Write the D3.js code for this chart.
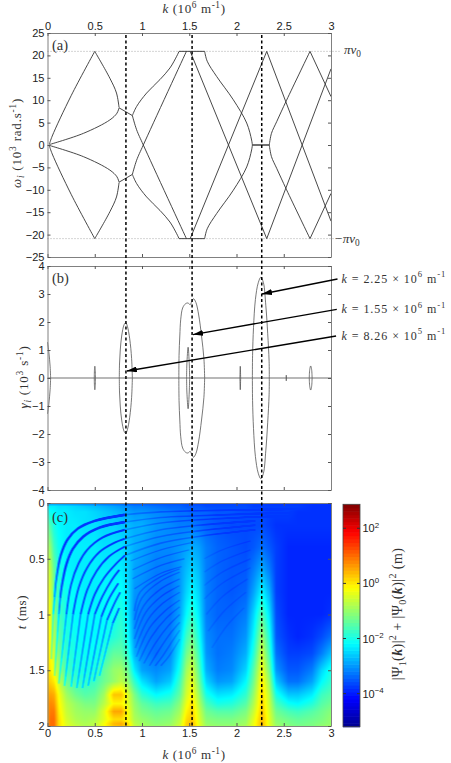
<!DOCTYPE html>
<html>
<head>
<meta charset="utf-8">
<script src="https://d3js.org/d3.v7.min.js"></script>
<style>
  html, body { margin: 0; padding: 0; background: #fff; }
  svg { display: block; }
  .tk text { font-family: "Liberation Sans", sans-serif; font-size: 11px; fill: #222; }
  .tk line { stroke: #555; }
  .tk path { stroke: #808080; fill: none; }
  .cm { font-family: "Liberation Serif", serif; fill: #333; }
</style>
</head>
<body>
<div id="chart"></div>
<script>
var svgWidth = 451;
var svgHeight = 763;

var kTicks = [0, 0.5, 1, 1.5, 2, 2.5, 3];
var omegaTicks = [-25, -20, -15, -10, -5, 0, 5, 10, 15, 20, 25];
var gammaTicks = [-4, -3, -2, -1, 0, 1, 2, 3, 4];
var timeTicks = [0, 0.5, 1, 1.5, 2];
var powerTicks = [-4, -2, 0, 2];
var markedK = [0.83, 1.53, 2.267];
var piNu = 20.9;

// (a) branches of omega(k); each one is also drawn mirrored about omega = 0
var branchRise = [[0.02, 0.2], [0.05, 2], [0.25, 11], [0.5, 20.9]];
var branchFall = [[0.5, 20.9], [0.66, 14.9], [0.73, 11.6], [0.757, 8.4]];
var branchLink = [[0.757, 8.3], [0.898, 6.57]];
var branchInner = [[0.02, 0.1], [0.38, 2.6], [0.66, 5.6], [0.735, 7.1], [0.757, 8.3]];
var branchUp = [[0.898, 6.57], [0.943, 8.6], [1.049, 11.6], [1.19, 14.6], [1.296, 17.2], [1.367, 19.8], [1.392, 20.9]];
var branchDown = [[0.898, 6.57], [0.943, 3.4], [1.014, 0], [1.47, -20.9]];
var branchTop = [[1.392, 20.9], [1.663, 20.9]];
var branchCross = [[1.51, 20.9], [2.32, -20.9]];
var branchWideA = [[1.663, 20.9], [1.69, 18.7], [1.79, 15.3], [1.966, 10.1], [2.108, 4.9], [2.16, 1.1], [2.168, 0]];
var branchFlat = [[2.168, 0], [2.347, 0]];
var branchWideB = [[2.347, 0], [2.37, 2.6], [2.425, 5.2], [2.53, 10], [2.778, 20.9]];
var branchEnd = [[2.778, 20.9], [3, 10.8]];
var branchLong = [[2.32, -20.9], [3, 17]];
var branches = [branchRise, branchFall, branchLink, branchInner, branchUp, branchDown, branchTop, branchCross, branchWideA, branchFlat, branchWideB, branchEnd, branchLong];

// (b) upper half of each growth-rate lobe
var lobeZero = [[0, 1.28], [0.015, 0.9], [0.028, 0.4], [0.033, 0]];
var lobeHalf = [[0.495, 0], [0.497, 0.3], [0.501, 0.42], [0.505, 0.3], [0.507, 0]];
var lobeFirst = [[0.76, 0], [0.762, 0.5], [0.77, 1], [0.785, 1.5], [0.81, 1.9], [0.828, 1.98], [0.845, 1.85], [0.87, 1.4], [0.89, 0.7], [0.898, 0]];
var lobeWide = [[1.39, 0], [1.392, 0.8], [1.4, 1.5], [1.41, 2.1], [1.43, 2.5], [1.46, 2.65], [1.485, 2.68], [1.51, 2.62], [1.525, 2.72], [1.545, 2.83], [1.57, 2.7], [1.6, 2.25], [1.63, 1.5], [1.655, 0.7], [1.663, 0]];
var lobeInner = [[1.472, 0], [1.475, 0.5], [1.488, 1.1], [1.5, 0.5], [1.504, 0]];
var lobeTall = [[2.168, 0], [2.17, 0.8], [2.18, 1.8], [2.2, 2.8], [2.23, 3.4], [2.258, 3.6], [2.285, 3.4], [2.31, 2.6], [2.33, 1.6], [2.345, 0.6], [2.347, 0]];
var lobeSmallA = [[2.036, 0], [2.04, 0.42], [2.044, 0]];
var lobeSmallB = [[2.525, 0], [2.527, 0.1], [2.529, 0]];
var lobeSmallC = [[2.77, 0], [2.775, 0.3], [2.785, 0.43], [2.795, 0.3], [2.8, 0]];
var lobes = [lobeZero, lobeHalf, lobeFirst, lobeWide, lobeInner, lobeTall, lobeSmallA, lobeSmallB, lobeSmallC];

var arrowTips = [[2.27, 3.0], [1.54, 1.55], [0.84, 0.25]];
var arrowValues = [["2.25", "6"], ["1.55", "6"], ["8.26", "5"]];

// (c) log10 of the amplitude, read at these k and t
var gridK = [0, 0.03, 0.07, 0.12, 0.2, 0.3, 0.4, 0.5, 0.6, 0.7, 0.78, 0.85, 0.92, 1, 1.15, 1.3, 1.4, 1.47, 1.53, 1.6, 1.68, 1.8, 1.95, 2.1, 2.18, 2.27, 2.35, 2.42, 2.55, 2.65, 2.8, 2.9, 3];
var gridT = [0, 0.03, 0.08, 0.2, 0.4, 0.6, 0.8, 1, 1.2, 1.35, 1.5, 1.6, 1.72, 1.8, 1.87, 1.94, 1.98, 2];
var logAmp = [
  [-3.2,-3.2,-3.2,-3.2,-3.3,-3.3,-3.4,-3.4,-3.5,-3.5,-3.5,-3.6,-3.6,-3.6,-3.6,-3.6,-3.6,-3.6,-3.7,-3.7,-3.7,-3.7,-3.7,-3.7,-3.7,-3.7,-3.8,-3.8,-3.8,-3.8,-3.8,-3.8,-3.8],
  [-2.3,-2.3,-2.3,-2.4,-2.4,-2.5,-2.6,-2.7,-2.8,-2.9,-3,-3.1,-3.2,-3.2,-3.3,-3.4,-3.4,-3.5,-3.5,-3.5,-3.6,-3.6,-3.6,-3.6,-3.7,-3.7,-3.7,-3.7,-3.7,-3.7,-3.8,-3.8,-3.8],
  [-1.9,-2.1,-2.2,-2.3,-2.3,-2.4,-2.4,-2.5,-2.6,-2.7,-2.8,-2.9,-3,-3,-3.1,-3.2,-3.3,-3.3,-3.4,-3.4,-3.4,-3.5,-3.5,-3.6,-3.6,-3.6,-3.7,-3.7,-3.7,-3.8,-3.8,-3.8,-3.8],
  [-1.3,-1.6,-2,-2.2,-2.3,-2.3,-2.4,-2.4,-2.5,-2.5,-2.6,-2.7,-2.8,-2.8,-3,-3.1,-3.2,-3.2,-3.2,-3.3,-3.4,-3.5,-3.6,-3.6,-3.6,-3.6,-3.7,-3.8,-3.8,-3.8,-3.8,-3.8,-3.8],
  [-0.8,-1,-1.7,-2.1,-2.3,-2.3,-2.3,-2.3,-2.4,-2.4,-2.4,-2.6,-2.8,-2.9,-3.1,-3.1,-3,-2.9,-2.8,-2.9,-3.2,-3.4,-3.5,-3.6,-3.5,-3.3,-3.5,-3.7,-3.9,-3.9,-3.9,-3.9,-3.9],
  [-0.4,-0.7,-1.4,-1.9,-2.2,-2.3,-2.3,-2.3,-2.3,-2.3,-2.3,-2.5,-2.9,-3,-3.2,-3.2,-3,-2.7,-2.5,-2.7,-3.2,-3.4,-3.5,-3.5,-3.2,-2.8,-3.2,-3.7,-3.9,-3.9,-3.9,-3.9,-3.9],
  [-0.2,-0.5,-1.2,-1.8,-2.1,-2.2,-2.3,-2.3,-2.2,-2.2,-2.1,-2.4,-3,-3.1,-3.3,-3.3,-3,-2.5,-2.2,-2.5,-3.2,-3.4,-3.5,-3.4,-2.9,-2.2,-2.8,-3.7,-3.9,-3.9,-3.9,-3.9,-3.9],
  [-0.1,-0.3,-1,-1.6,-2,-2.2,-2.2,-2.2,-2.2,-2.1,-1.9,-2.3,-3.1,-3.2,-3.3,-3.3,-2.9,-2.2,-1.8,-2.3,-3.2,-3.4,-3.4,-3.2,-2.5,-1.5,-2.4,-3.6,-3.9,-3.9,-3.9,-3.9,-3.8],
  [0,-0.2,-0.8,-1.4,-1.9,-2.1,-2.2,-2.2,-2.1,-1.9,-1.7,-2.1,-3,-3.2,-3.3,-3.2,-2.6,-1.7,-1.3,-2,-3.1,-3.3,-3.3,-3,-2.2,-0.9,-2,-3.5,-3.8,-3.9,-3.8,-3.6,-3.3],
  [0,-0.1,-0.6,-1.2,-1.8,-2,-2.1,-2.1,-1.8,-1.4,-1.4,-1.8,-2.8,-3.1,-3.3,-3.1,-2.3,-1.3,-0.9,-1.7,-3,-3.3,-3.2,-2.8,-1.9,-0.5,-1.7,-3.3,-3.7,-3.7,-3.6,-3.2,-2.7],
  [0.1,0,-0.3,-0.9,-1.6,-1.9,-2,-1.9,-1.4,-1,-0.9,-1.3,-2.3,-2.9,-3.1,-2.9,-2,-0.9,-0.5,-1.4,-2.8,-3.2,-3.1,-2.5,-1.5,-0.2,-1.3,-3,-3.5,-3.5,-3.2,-2.5,-2],
  [0.2,0.2,0,-0.6,-1.3,-1.7,-1.8,-1.7,-1.3,-1,-0.7,-1,-1.8,-2.4,-2.9,-2.6,-1.7,-0.7,-0.3,-1.2,-2.5,-3,-2.9,-2.2,-1.3,0,-1,-2.6,-3.3,-3.3,-2.9,-2.2,-1.8],
  [0.4,0.6,0.5,-0.2,-0.9,-1.3,-1.5,-1.4,-0.9,0.3,0.3,-0.4,-1.2,-1.8,-2.2,-2,-1.4,-0.5,-0.1,-0.9,-2,-2.4,-2.3,-1.8,-1,0.15,-0.7,-2,-2.6,-2.6,-2.3,-1.7,-1.5],
  [0.5,0.8,0.7,-0.1,-0.7,-1,-1.2,-1.2,-0.7,-0.1,-0.1,-0.4,-1,-1.4,-1.7,-1.6,-1.1,-0.3,0.1,-0.7,-1.6,-2,-1.9,-1.5,-0.8,0.2,-0.6,-1.6,-2.1,-2.2,-1.9,-1.5,-1.3],
  [0.5,0.9,0.9,0,-0.6,-0.9,-1,-1,-0.4,0.55,0.55,-0.2,-0.9,-1.2,-1.4,-1.3,-0.9,-0.1,0.2,-0.5,-1.3,-1.5,-1.5,-1.2,-0.6,0.3,-0.5,-1.3,-1.6,-1.7,-1.5,-1.3,-1.1],
  [0.5,1,1,0.1,-0.5,-0.8,-0.9,-0.8,-0.4,0.1,0.1,-0.2,-0.8,-1,-1.2,-1.1,-0.7,0.1,0.3,-0.4,-1.1,-1.2,-1.2,-1,-0.4,0.4,-0.4,-1.1,-1.3,-1.4,-1.3,-1.2,-1],
  [0.5,1,1,0.1,-0.4,-0.7,-0.8,-0.7,-0.2,0.4,0.5,0.1,-0.7,-0.9,-1.1,-1,-0.6,0.2,0.4,-0.3,-1,-1.1,-1.1,-0.9,-0.3,0.4,-0.4,-1,-1.2,-1.3,-1.2,-1.1,-1],
  [0.5,1,1,0.1,-0.4,-0.6,-0.8,-0.7,-0.2,0.3,0.4,0.1,-0.6,-0.9,-1,-0.9,-0.5,0.2,0.4,-0.3,-0.9,-1,-1,-0.8,-0.3,0.4,-0.3,-0.9,-1.1,-1.2,-1.2,-1,-0.9]
];

// dark fringes of the interference pattern, traced as [k, t]
var leadFringes = [
  [[0.075, 0.85], [0.09, 0.7], [0.14, 0.47], [0.21, 0.33], [0.32, 0.23], [0.5, 0.16], [0.82, 0.105]],
  [[0.135, 0.85], [0.15, 0.75], [0.2, 0.55], [0.27, 0.41], [0.38, 0.3], [0.55, 0.22], [0.82, 0.17]]
];
var mainFringes = [
  [[0.06, 1], [0.075, 0.85]],
  [[0.12, 1], [0.135, 0.85]],
  [[0.2, 1], [0.25, 0.73], [0.33, 0.54], [0.42, 0.42], [0.58, 0.31], [0.82, 0.24]],
  [[0.27, 1], [0.33, 0.76], [0.42, 0.58], [0.55, 0.44], [0.7, 0.36], [0.82, 0.32]],
  [[0.35, 1], [0.42, 0.78], [0.52, 0.61], [0.65, 0.48], [0.82, 0.39]],
  [[0.43, 1], [0.5, 0.82], [0.6, 0.67], [0.72, 0.55], [0.82, 0.47]],
  [[0.5, 1], [0.58, 0.84], [0.68, 0.69], [0.76, 0.6]],
  [[0.57, 1.02], [0.65, 0.86], [0.75, 0.72]],
  [[0.63, 1.05], [0.72, 0.88], [0.77, 0.8]],
  [[0.69, 1.08], [0.76, 0.94]]
];
var lowerFringes = [
  [[0.04, 1.4], [0.06, 1]],
  [[0.075, 1.55], [0.12, 1]],
  [[0.12, 1.62], [0.2, 1]],
  [[0.18, 1.64], [0.27, 1]],
  [[0.25, 1.65], [0.35, 1]],
  [[0.31, 1.66], [0.43, 1]],
  [[0.37, 1.66], [0.5, 1]],
  [[0.43, 1.64], [0.57, 1.02]],
  [[0.49, 1.6], [0.63, 1.05]],
  [[0.55, 1.55], [0.69, 1.08]]
];
var upperFringes = [
  [[0.82, 0.105], [1.2, 0.08], [1.6, 0.07], [2.2, 0.06], [3, 0.05]],
  [[0.82, 0.17], [1.2, 0.13], [1.6, 0.115], [2.2, 0.095], [3, 0.08]],
  [[0.82, 0.24], [1.2, 0.18], [1.6, 0.15], [2.2, 0.125], [3, 0.105]],
  [[0.82, 0.32], [1.2, 0.24], [1.6, 0.2], [2.2, 0.16]],
  [[0.82, 0.39], [1.2, 0.3], [1.6, 0.25], [2.2, 0.2]],
  [[0.82, 0.47], [1.2, 0.36], [1.6, 0.3], [2.2, 0.24]]
];
var basinFringes = [
  [[0.88, 0.52], [1.2, 0.42], [1.55, 0.35]],
  [[0.9, 0.6], [1.2, 0.49], [1.5, 0.42]],
  [[0.9, 0.68], [1.2, 0.56], [1.45, 0.5]],
  [[0.92, 0.77], [1.2, 0.63], [1.42, 0.57]],
  [[0.92, 0.97], [0.98, 0.8], [1.2, 0.66], [1.4, 0.59]],
  [[0.92, 1.05], [1, 0.85], [1.2, 0.7], [1.4, 0.62]],
  [[0.92, 1.13], [1.02, 0.92], [1.2, 0.77], [1.4, 0.68]],
  [[0.92, 1.22], [1.04, 0.98], [1.2, 0.84], [1.4, 0.74]],
  [[0.93, 1.3], [1.06, 1.05], [1.22, 0.9], [1.4, 0.8]],
  [[0.94, 1.38], [1.08, 1.12], [1.24, 0.97], [1.4, 0.87]],
  [[0.97, 1.42], [1.1, 1.2], [1.26, 1.03], [1.4, 0.93]],
  [[1.02, 1.44], [1.14, 1.26], [1.28, 1.1], [1.4, 1]],
  [[1.08, 1.46], [1.18, 1.32], [1.3, 1.17], [1.4, 1.07]],
  [[1.14, 1.46], [1.22, 1.37], [1.32, 1.24], [1.4, 1.14]],
  [[1.2, 1.46], [1.28, 1.38], [1.4, 1.22]]
];
var faintFringes = [
  [[1.66, 0.5], [1.85, 0.42], [2.15, 0.34]],
  [[1.66, 0.62], [1.85, 0.52], [2.15, 0.42]],
  [[1.66, 0.74], [1.85, 0.62], [2.15, 0.5]],
  [[1.66, 0.86], [1.85, 0.72], [2.15, 0.58]],
  [[1.68, 1], [1.85, 0.84], [2.12, 0.68]],
  [[1.7, 1.15], [1.88, 0.96], [2.1, 0.8]],
  [[1.74, 1.3], [1.9, 1.1], [2.08, 0.94]]
];

// jet colormap stops in MATLAB order
var jetStops = ["#00008f", "#0000ff", "#00ffff", "#ffff00", "#ff0000", "#800000"];
var jetAt = [0, 0.125, 0.375, 0.625, 0.875, 1];
var logRange = [-5.2, 2.87];

var plotLeft = 47.5, plotRight = 331;
var panelA = { top: 33, bottom: 257 };
var panelB = { top: 266, bottom: 490 };
var panelC = { top: 503, bottom: 726 };
var bar = { left: 343, right: 360, top: 504.3, bottom: 726.7 };

var x = d3.scaleLinear().domain([0, 3]).range([plotLeft, plotRight]);
var yOmega = d3.scaleLinear().domain([-25, 25]).range([panelA.bottom, panelA.top]);
var yGamma = d3.scaleLinear().domain([-4, 4]).range([panelB.bottom, panelB.top]);
var yTime = d3.scaleLinear().domain([0, 2]).range([panelC.top, panelC.bottom]);
var yPower = d3.scaleLinear().domain(logRange).range([bar.bottom, bar.top]);

var jet = d3.scaleLinear()
  .domain(jetAt.map(p => logRange[0] + p * (logRange[1] - logRange[0])))
  .range(jetStops)
  .clamp(true);

var svg = d3.select("#chart")
  .append("svg")
    .attr("width", svgWidth)
    .attr("height", svgHeight);

// text with italic, superscript and subscript runs
function rich(sel, parts, size) {
  var shift = 0;
  parts.forEach(function(p) {
    var kind = p[1] || "";
    var span = sel.append("tspan").text(p[0]);
    var target = kind == "sup" ? -0.42 * size : (kind == "sub" || kind == "subi") ? 0.25 * size : 0;
    span.attr("dy", target - shift);
    shift = target;
    if (kind == "i" || kind == "subi") span.attr("font-style", "italic");
    if (kind == "b") span.attr("font-style", "italic").attr("font-weight", "bold");
    if (kind == "sup" || kind == "sub" || kind == "subi") span.attr("font-size", size * 0.72);
  });
  return sel;
}

function label(px, py, parts, size, rotate, anchor, spacing) {
  var t = svg.append("text")
    .attr("class", "cm")
    .attr("font-size", size)
    .attr("letter-spacing", spacing || 0)
    .attr("text-anchor", anchor || "middle")
    .attr("transform", `translate(${px}, ${py})` + (rotate ? " rotate(-90)" : ""));
  return rich(t, parts, size);
}

// ---- heat map: fringes are first painted as a depth mask, which is then
// taken off the log amplitude before the colormap
var cw = Math.round(plotRight - plotLeft), ch = Math.round(panelC.bottom - panelC.top);
var maxDepth = 1.6;
var floorValue = -3.75;

var maskCanvas = document.createElement("canvas");
maskCanvas.width = cw;
maskCanvas.height = ch;
var mask = maskCanvas.getContext("2d", { willReadFrequently: true });
mask.fillStyle = "#000";
mask.fillRect(0, 0, cw, ch);

var fringeLine = d3.line()
  .x(d => x(d[0]) - plotLeft)
  .y(d => yTime(d[1]) - panelC.top)
  .curve(d3.curveCatmullRom)
  .context(mask);

function paintFringes(list, width, depth, blur) {
  mask.save();
  mask.filter = `blur(${blur}px)`;
  mask.lineWidth = width;
  mask.strokeStyle = `rgba(255, 255, 255, ${depth / maxDepth})`;
  list.forEach(function(f) {
    mask.beginPath();
    fringeLine(f);
    mask.stroke();
  });
  mask.restore();
}
paintFringes(faintFringes, 1.4, 0.15, 0.5);
paintFringes(upperFringes, 1.6, 0.35, 0.5);
paintFringes(basinFringes, 1.3, 0.35, 0.4);
paintFringes(lowerFringes, 1.6, 1, 0.4);
paintFringes(mainFringes, 1.9, 1.4, 0.5);
paintFringes(leadFringes, 2.4, 1.6, 0.6);
var maskData = mask.getImageData(0, 0, cw, ch).data;

var canvas = document.createElement("canvas");
canvas.width = cw;
canvas.height = ch;
var ctx = canvas.getContext("2d");
var pixels = ctx.createImageData(cw, ch);

function lookup(nodes, v) {
  var i = Math.min(Math.max(d3.bisectRight(nodes, v) - 1, 0), nodes.length - 2);
  return [i, (v - nodes[i]) / (nodes[i + 1] - nodes[i])];
}

for (var py = 0; py < ch; py++) {
  var tPos = lookup(gridT, yTime.invert(panelC.top + py + 0.5));
  for (var px = 0; px < cw; px++) {
    var kPos = lookup(gridK, x.invert(plotLeft + px + 0.5));
    var rowA = logAmp[tPos[0]], rowB = logAmp[tPos[0] + 1];
    var valA = rowA[kPos[0]] + (rowA[kPos[0] + 1] - rowA[kPos[0]]) * kPos[1];
    var valB = rowB[kPos[0]] + (rowB[kPos[0] + 1] - rowB[kPos[0]]) * kPos[1];
    var off = (py * cw + px) * 4;
    var val = valA + (valB - valA) * tPos[1];
    var dipped = Math.max(val - maskData[off] / 255 * maxDepth, Math.min(val, floorValue));
    var col = d3.rgb(jet(dipped));
    pixels.data[off] = col.r;
    pixels.data[off + 1] = col.g;
    pixels.data[off + 2] = col.b;
    pixels.data[off + 3] = 255;
  }
}
ctx.putImageData(pixels, 0, 0);

svg.append("image")
  .attr("x", plotLeft)
  .attr("y", panelC.top)
  .attr("width", cw)
  .attr("height", ch)
  .attr("href", canvas.toDataURL());

// ---- axes
function box(y, labelTop, labelBottom, yTicks) {
  var topAxis = d3.axisTop(x).tickValues(kTicks).tickSize(-3).tickSizeOuter(0).tickPadding(3).tickFormat(d => d);
  if (!labelTop) topAxis.tickFormat("");
  var bottomAxis = d3.axisBottom(x).tickValues(kTicks).tickSize(-3).tickSizeOuter(0).tickPadding(3).tickFormat(d => d);
  if (!labelBottom) bottomAxis.tickFormat("");
  var yr = y.range();
  svg.append("g").attr("class", "tk")
    .attr("transform", `translate(0, ${Math.min(yr[0], yr[1])})`).call(topAxis);
  svg.append("g").attr("class", "tk")
    .attr("transform", `translate(0, ${Math.max(yr[0], yr[1])})`).call(bottomAxis);
  svg.append("g").attr("class", "tk")
    .attr("transform", `translate(${plotLeft}, 0)`)
    .call(d3.axisLeft(y).tickValues(yTicks).tickSize(-3).tickSizeOuter(0).tickPadding(3).tickFormat(d => String(d).replace("-", "−")));
  svg.append("g").attr("class", "tk")
    .attr("transform", `translate(${plotRight}, 0)`)
    .call(d3.axisRight(y).tickValues(yTicks).tickSize(-3).tickSizeOuter(0).tickFormat(""));
}

// (a)
svg.append("g").selectAll("line")
  .data([piNu, -piNu])
  .enter()
  .append("line")
    .attr("x1", x(0))
    .attr("x2", x(3) + 9)
    .attr("y1", d => yOmega(d))
    .attr("y2", d => yOmega(d))
    .attr("stroke", "#aaa")
    .attr("stroke-width", 1)
    .attr("stroke-dasharray", "1,2");

var branchPath = d3.line().x(d => x(d[0])).y(d => yOmega(d[1])).curve(d3.curveCatmullRom);
var mirrored = branches.concat(branches.map(b => b.map(d => [d[0], -d[1]])));
svg.append("g").selectAll("path")
  .data(mirrored)
  .enter()
  .append("path")
    .attr("d", branchPath)
    .attr("fill", "none")
    .attr("stroke", "#333")
    .attr("stroke-width", 0.9);

box(yOmega, true, false, omegaTicks);

// (b)
svg.append("line")
  .attr("x1", x(0)).attr("x2", x(3))
  .attr("y1", yGamma(0)).attr("y2", yGamma(0))
  .attr("stroke", "#a0a0a0")
  .attr("stroke-width", 1.4);

var lobePath = d3.line().x(d => x(d[0])).y(d => yGamma(d[1])).curve(d3.curveCatmullRom);
svg.append("g").selectAll("path")
  .data(lobes.concat(lobes.map(l => l.map(d => [d[0], -d[1]]))))
  .enter()
  .append("path")
    .attr("d", lobePath)
    .attr("fill", "none")
    .attr("stroke", "#555")
    .attr("stroke-width", 0.8);

box(yGamma, false, false, gammaTicks);

// (c)
box(yTime, false, true, timeTicks);

// dashed markers run through all three panels
svg.append("g").selectAll("line")
  .data(markedK)
  .enter()
  .append("line")
    .attr("x1", d => x(d))
    .attr("x2", d => x(d))
    .attr("y1", panelA.top + 2)
    .attr("y2", panelC.bottom)
    .attr("stroke", "#000")
    .attr("stroke-width", 1.5)
    .attr("stroke-dasharray", "3,2.5");

// arrows from the k labels on the right
svg.append("defs").append("marker")
  .attr("id", "head")
  .attr("viewBox", "0 0 10 6")
  .attr("refX", 10)
  .attr("refY", 3)
  .attr("markerWidth", 10)
  .attr("markerHeight", 6)
  .attr("markerUnits", "userSpaceOnUse")
  .attr("orient", "auto")
  .append("path")
    .attr("d", "M0,0L10,3L0,6Z")
    .attr("fill", "#000");

var arrowStartY = [279, 309.3, 336];
svg.append("g").selectAll("line")
  .data(arrowTips)
  .enter()
  .append("line")
    .attr("x1", (d, i) => 337.5 - i * 0.7)
    .attr("y1", (d, i) => arrowStartY[i])
    .attr("x2", d => x(d[0]))
    .attr("y2", d => yGamma(d[1]))
    .attr("stroke", "#000")
    .attr("stroke-width", 1.3)
    .attr("marker-end", "url(#head)");

arrowValues.forEach(function(v, i) {
  label(341.5, arrowStartY[i] + 3.5,
    [["k", "i"], [" = " + v[0] + " × 10"], [v[1], "sup"], [" m"], ["-1", "sup"]], 12, false, "start", 0.95);
});

// ---- colorbar
var barSteps = d3.range(64);
var barStep = (logRange[1] - logRange[0]) / 64;
svg.append("g").selectAll("rect")
  .data(barSteps)
  .enter()
  .append("rect")
    .attr("x", bar.left)
    .attr("width", bar.right - bar.left)
    .attr("y", d => yPower(logRange[0] + (d + 1) * barStep))
    .attr("height", d => yPower(logRange[0] + d * barStep) - yPower(logRange[0] + (d + 1) * barStep) + 0.6)
    .attr("fill", d => jet(logRange[0] + (d + 0.5) * barStep));

svg.append("rect")
  .attr("x", bar.left).attr("y", bar.top)
  .attr("width", bar.right - bar.left).attr("height", bar.bottom - bar.top)
  .attr("fill", "none").attr("stroke", "#444").attr("stroke-width", 0.8);

var barTicks = svg.append("g").selectAll("g")
  .data(powerTicks)
  .enter()
  .append("g")
    .attr("transform", d => `translate(0, ${yPower(d)})`);
barTicks.append("line").attr("x1", bar.left).attr("x2", bar.left + 3).attr("stroke", "#333");
barTicks.append("line").attr("x1", bar.right - 3).attr("x2", bar.right).attr("stroke", "#333");
barTicks.each(function(d) {
  var t = d3.select(this).append("text")
    .attr("x", bar.right + 2.5)
    .attr("y", 4)
    .attr("font-family", "Liberation Sans, sans-serif")
    .attr("font-size", 11)
    .attr("fill", "#222");
  rich(t, [["10"], [String(d).replace("-", "−"), "sup"]], 11);
});

// ---- titles
label(194, 13, [["k", "i"], [" (10"], ["6", "sup"], [" m"], ["-1", "sup"], [")"]], 13, false, "middle", 0.6);
label(194, 759, [["k", "i"], [" (10"], ["6", "sup"], [" m"], ["-1", "sup"], [")"]], 13, false, "middle", 0.6);
label(21, 143, [["ω", "i"], ["i", "subi"], [" (10"], ["3", "sup"], [" rad.s"], ["-1", "sup"], [")"]], 13, true, "middle", 0.8);
label(28, 377, [["γ", "i"], ["i", "subi"], [" (10"], ["3", "sup"], [" s"], ["-1", "sup"], [")"]], 13, true, "middle", 0.8);
label(26, 612, [["t", "i"], [" (ms)"]], 13, true, "middle", 0.6);
label(402, 614, [["|Ψ"], ["1", "sub"], ["("], ["k", "b"], [")|"], ["2", "sup"], [" + |Ψ"], ["0", "sub"], ["("], ["k", "b"], [")|"], ["2", "sup"], [" (m)"]], 14, true, "middle", 0.4);

label(52, 50, [["(a)"]], 14.5, false, "start");
label(52, 283, [["(b)"]], 14.5, false, "start");
label(52, 522, [["(c)"]], 14.5, false, "start");

label(344, 54, [["π", "i"], ["ν", "i"], ["0", "sub"]], 13, false, "start");
label(334, 243, [["−π", "i"], ["ν", "i"], ["0", "sub"]], 13, false, "start");
</script>
</body>
</html>
